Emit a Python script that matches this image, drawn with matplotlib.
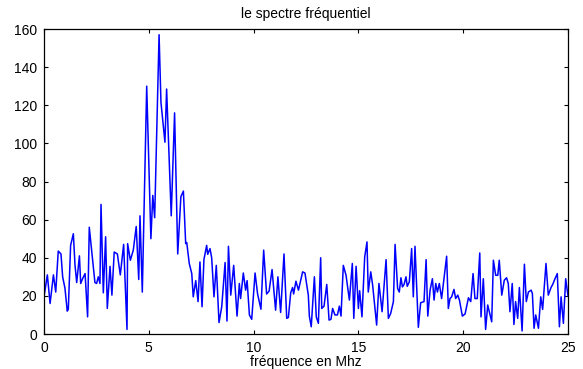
import matplotlib
matplotlib.use("Agg")
import matplotlib.pyplot as plt

freq = [0.0, 0.16, 0.29, 0.45, 0.56, 0.68, 0.81, 0.89, 1.00, 1.11, 1.16, 1.27, 1.40, 1.48,
        1.56, 1.69, 1.75, 1.84, 1.96, 2.08, 2.16, 2.27, 2.43, 2.51, 2.59, 2.67, 2.72, 2.83,
        2.94, 3.02, 3.15, 3.24, 3.35, 3.50, 3.64, 3.80, 3.96, 3.99, 4.12, 4.26, 4.40, 4.52,
        4.58, 4.69, 4.90, 5.10, 5.19, 5.28, 5.49, 5.58, 5.77, 5.85, 6.07, 6.23, 6.38, 6.53,
        6.65, 6.76, 6.81, 6.93, 7.05, 7.12, 7.24, 7.35, 7.44, 7.54, 7.63, 7.76, 7.81, 7.92,
        8.00, 8.11, 8.22, 8.35, 8.48, 8.64, 8.73, 8.80, 8.91, 9.05, 9.21, 9.32, 9.38, 9.51,
        9.62, 9.69, 9.80, 9.91, 10.07, 10.19, 10.35, 10.48, 10.62, 10.74, 10.88, 11.05,
        11.16, 11.29, 11.45, 11.58, 11.66, 11.77, 11.86, 11.91, 12.02, 12.14, 12.34, 12.45,
        12.61, 12.66, 12.75, 12.90, 12.99, 13.09, 13.20, 13.25, 13.36, 13.49, 13.60, 13.69,
        13.77, 13.88, 14.00, 14.09, 14.17, 14.28, 14.41, 14.57, 14.71, 14.78, 14.89, 15.00,
        15.06, 15.17, 15.30, 15.41, 15.47, 15.59, 15.68, 15.87, 15.98, 16.13, 16.32, 16.43,
        16.54, 16.67, 16.75, 16.87, 16.95, 17.03, 17.10, 17.18, 17.27, 17.33, 17.43, 17.54,
        17.62, 17.70, 17.86, 17.97, 18.13, 18.23, 18.31, 18.42, 18.53, 18.61, 18.69, 18.77,
        18.86, 18.97, 19.21, 19.29, 19.37, 19.45, 19.56, 19.64, 19.74, 19.82, 19.96, 20.09,
        20.25, 20.36, 20.47, 20.56, 20.67, 20.79, 20.85, 20.96, 21.07, 21.17, 21.36, 21.44,
        21.55, 21.65, 21.72, 21.84, 21.96, 22.07, 22.15, 22.23, 22.34, 22.42, 22.50, 22.60,
        22.68, 22.81, 22.92, 23.01, 23.11, 23.24, 23.30, 23.38, 23.46, 23.59, 23.70, 23.79,
        23.95, 24.06, 24.19, 24.27, 24.38, 24.49, 24.59, 24.67, 24.78, 24.89, 25.00]

amplitude = [19.5, 31, 16, 31, 22, 43.5, 42, 30, 24, 12, 13, 46.5, 52.6, 36,
             27, 41, 26.5, 29, 31.7, 9, 56, 44, 27, 26.5, 30, 26.5, 68, 21.6,
             51, 13.4, 35.5, 20.4, 43, 42, 31, 47, 2.4, 47.4, 38.7, 44, 56.4, 28.6,
             62, 22, 130, 50, 72.7, 61, 157, 121.5, 100.6, 128.5, 62, 116, 42, 72,
             75, 47.4, 48, 37, 31.7, 19.5, 28, 17, 37.8, 14.3, 39, 46.5, 41.8, 44.8,
             40, 19.5, 36, 6, 14.3, 37.5, 6.8, 46, 20.4, 36, 9.4, 26.5, 18.6, 32,
             23, 28, 10, 7.7, 32, 21, 13, 44, 21, 22.5, 33.8, 12.5,
             30, 11.3, 42, 8.2, 8.7, 21.6, 24.4, 21, 27.7, 23, 32.6, 32,
             20.4, 9.4, 3.8, 30, 9, 5.6, 40, 13.4, 14.6, 26, 7.3, 7.7,
             13.4, 10, 10, 14.6, 9.4, 36, 30.8, 17.8, 37, 8.2, 35.5, 13.4,
             22.7, 9, 40.4, 48.3, 22, 32.6, 25.6, 4.7, 26.5, 11.7, 39, 8.2,
             10.8, 17, 47, 23.9, 22, 29.5, 24.7, 26, 30, 25, 27.4, 44.8,
             19.5, 46, 3.5, 16.4, 17, 39, 9.4, 23, 29, 17.8, 26.5, 22,
             26.5, 18.6, 40.8, 13.4, 18.6, 19.5, 23.4, 18.6, 20.4, 17.8, 9.4, 10.5,
             19, 17, 31.7, 18.6, 18.6, 42.5, 9, 29, 2.4, 15.2, 6.4, 38.7,
             30.8, 30.8, 38.7, 20.4, 28.2, 29.5, 26.5, 11.7, 26.5, 5, 17, 8.2,
             24.4, 1.6, 36.6, 17, 22, 23, 21.3, 3, 10, 3, 19.5, 12.9,
             37, 20.4, 24.4, 26, 29, 31.7, 3.8, 19.5, 5.6, 29, 20]

xticks = [0, 5, 10, 15, 20, 25]
yticks = [0, 20, 40, 60, 80, 100, 120, 140, 160]

plt.rcParams['font.family'] = ['Liberation Sans', 'DejaVu Sans']

fig = plt.figure(figsize=(5.83, 3.69), dpi=100)
ax = fig.add_axes([44/583, 1-334/369, (568-44)/583, (334-29)/369])
ax.plot(freq, amplitude, color='#0000ff', linewidth=1.1)
ax.set_xlim(0, 25)
ax.set_ylim(0, 160)
ax.set_xticks(xticks)
ax.set_yticks(yticks)
ax.tick_params(direction='in', top=True, right=True, length=3, width=0.8,
               labelsize=10, pad=5)
for s in ax.spines.values():
    s.set_linewidth(0.9)
ax.set_title('le spectre fréquentiel', fontsize=10, pad=8)
ax.set_xlabel('fréquence en Mhz', fontsize=10, labelpad=0)
fig.savefig('out.png', dpi=100)
